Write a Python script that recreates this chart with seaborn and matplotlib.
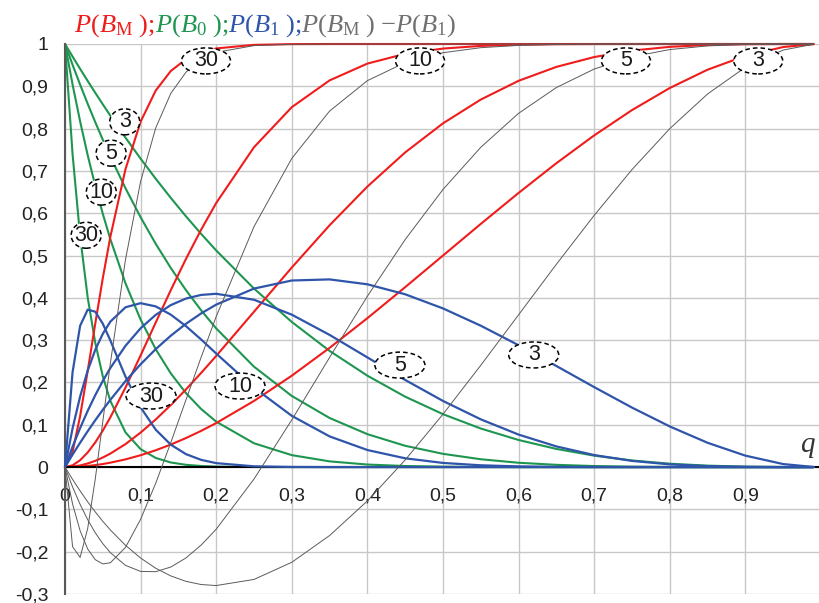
import numpy as np
import matplotlib
matplotlib.use("Agg")
import matplotlib.pyplot as plt
import seaborn as sns
from matplotlib.patches import Ellipse
from matplotlib.transforms import IdentityTransform

# ---------------- data ----------------
q = [0, 0.01, 0.02, 0.03, 0.04, 0.05, 0.06, 0.08, 0.10, 0.12, 0.14, 0.16, 0.18, 0.20,
     0.25, 0.30, 0.35, 0.40, 0.45, 0.50, 0.55, 0.60, 0.65, 0.70, 0.75, 0.80, 0.85,
     0.90, 0.95, 0.99]

n_values = [3, 5, 10, 30]

# P(B_0)  (green)
p_b0_3 = [1, 0.9703, 0.9412, 0.9127, 0.8847, 0.8574, 0.8306, 0.7787, 0.729, 0.6815,
          0.6361, 0.5927, 0.5514, 0.512, 0.4219, 0.343, 0.2746, 0.216, 0.1664, 0.125,
          0.0911, 0.064, 0.0429, 0.027, 0.0156, 0.008, 0.0034, 0.001, 0.0001, 0.0]
p_b0_5 = [1, 0.951, 0.9039, 0.8587, 0.8154, 0.7738, 0.7339, 0.6591, 0.5905, 0.5277,
          0.4704, 0.4182, 0.3707, 0.3277, 0.2373, 0.1681, 0.116, 0.0778, 0.0503, 0.0313,
          0.0185, 0.0102, 0.0053, 0.0024, 0.001, 0.0003, 0.0001, 0.0, 0.0, 0.0]
p_b0_10 = [1, 0.9044, 0.8171, 0.7374, 0.6648, 0.5987, 0.5386, 0.4344, 0.3487, 0.2785,
           0.2213, 0.1749, 0.1374, 0.1074, 0.0563, 0.0282, 0.0135, 0.006, 0.0025, 0.001,
           0.0003, 0.0001, 0.0, 0.0, 0.0, 0.0, 0.0, 0.0, 0.0, 0.0]
p_b0_30 = [1, 0.7397, 0.5455, 0.401, 0.2939, 0.2146, 0.1563, 0.082, 0.0424, 0.0216,
           0.0108, 0.0054, 0.0026, 0.0012, 0.0002, 0.0, 0.0, 0.0, 0.0, 0.0,
           0.0, 0.0, 0.0, 0.0, 0.0, 0.0, 0.0, 0.0, 0.0, 0.0]

# P(B_1)  (blue)
p_b1_3 = [0, 0.0294, 0.0576, 0.0847, 0.1106, 0.1354, 0.159, 0.2031, 0.243, 0.2788,
          0.3106, 0.3387, 0.3631, 0.384, 0.4219, 0.441, 0.4436, 0.432, 0.4084, 0.375,
          0.3341, 0.288, 0.2389, 0.189, 0.1406, 0.096, 0.0574, 0.027, 0.0071, 0.0003]
p_b1_5 = [0, 0.048, 0.0922, 0.1328, 0.1699, 0.2036, 0.2342, 0.2866, 0.3281, 0.3598,
          0.3829, 0.3983, 0.4069, 0.4096, 0.3955, 0.3602, 0.3124, 0.2592, 0.2059, 0.1563,
          0.1128, 0.0768, 0.0488, 0.0284, 0.0146, 0.0064, 0.0022, 0.0005, 0.0, 0.0]
p_b1_10 = [0, 0.0914, 0.1667, 0.2281, 0.277, 0.3151, 0.3438, 0.3777, 0.3874, 0.3798,
           0.3602, 0.3331, 0.3017, 0.2684, 0.1877, 0.1211, 0.0725, 0.0403, 0.0207, 0.0098,
           0.0042, 0.0016, 0.0005, 0.0001, 0.0, 0.0, 0.0, 0.0, 0.0, 0.0]
p_b1_30 = [0, 0.2242, 0.334, 0.3721, 0.3673, 0.3389, 0.2992, 0.2138, 0.1413, 0.0884,
           0.0529, 0.0306, 0.0171, 0.0093, 0.0018, 0.0003, 0.0, 0.0, 0.0, 0.0,
           0.0, 0.0, 0.0, 0.0, 0.0, 0.0, 0.0, 0.0, 0.0, 0.0]

# P(B_M)  (red)
p_bm_3 = [0, 0.0003, 0.0012, 0.0026, 0.0047, 0.0072, 0.0104, 0.0182, 0.028, 0.0397,
          0.0533, 0.0686, 0.0855, 0.104, 0.1563, 0.216, 0.2818, 0.352, 0.4253, 0.5,
          0.5748, 0.648, 0.7183, 0.784, 0.8438, 0.896, 0.9393, 0.972, 0.9928, 0.9997]
p_bm_5 = [0, 0.001, 0.0039, 0.0085, 0.0147, 0.0226, 0.0319, 0.0543, 0.0815, 0.1125,
          0.1467, 0.1835, 0.2224, 0.2627, 0.3672, 0.4717, 0.5716, 0.663, 0.7438, 0.8125,
          0.8687, 0.913, 0.9459, 0.9692, 0.9844, 0.9933, 0.9977, 0.9995, 1.0, 1.0]
p_bm_10 = [0, 0.0042, 0.0162, 0.0345, 0.0582, 0.0862, 0.1176, 0.1879, 0.2639, 0.3417,
           0.4185, 0.492, 0.5609, 0.6242, 0.756, 0.8507, 0.914, 0.9537, 0.9768, 0.9892,
           0.9955, 0.9983, 0.9995, 0.9999, 1.0, 1.0, 1.0, 1.0, 1.0, 1.0]
p_bm_30 = [0, 0.0361, 0.1205, 0.2269, 0.3388, 0.4465, 0.5445, 0.7042, 0.8163, 0.89,
           0.9363, 0.964, 0.9803, 0.9895, 0.998, 0.9997, 1.0, 1.0, 1.0, 1.0,
           1.0, 1.0, 1.0, 1.0, 1.0, 1.0, 1.0, 1.0, 1.0, 1.0]

y_ticks = [-0.3, -0.2, -0.1, 0, 0.1, 0.2, 0.3, 0.4, 0.5, 0.6, 0.7, 0.8, 0.9, 1.0]
y_tick_labels = ["-0,3", "-0,2", "-0,1", "0", "0,1", "0,2", "0,3", "0,4", "0,5",
                 "0,6", "0,7", "0,8", "0,9", "1"]
x_ticks = [0, 0.1, 0.2, 0.3, 0.4, 0.5, 0.6, 0.7, 0.8, 0.9]
x_tick_labels = ["0", "0,1", "0,2", "0,3", "0,4", "0,5", "0,6", "0,7", "0,8", "0,9"]

green_series = [p_b0_3, p_b0_5, p_b0_10, p_b0_30]
blue_series = [p_b1_3, p_b1_5, p_b1_10, p_b1_30]
red_series = [p_bm_3, p_bm_5, p_bm_10, p_bm_30]

# label anchors (annotation layout)
green_label_pos = [(0.079, 0.816), (0.061, 0.742), (0.048, 0.650), (0.028, 0.548)]
top_label_pos = [(0.917, 0.960), (0.742, 0.960), (0.4696, 0.960), (0.1865, 0.960)]
blue_label_pos = [(0.620, 0.265), (0.443, 0.241), (0.2315, 0.1915), (0.1138, 0.168)]

# ---------------- style ----------------
RED = "#F01C1C"
GREEN = "#1E9650"
BLUE = "#2F55AA"
GRAY = "#5A5A5A"

sns.set_style("white")
plt.rcParams["font.family"] = ["Liberation Sans", "DejaVu Sans"]
plt.rcParams["mathtext.fontset"] = "custom"
plt.rcParams["mathtext.rm"] = "Liberation Serif"
plt.rcParams["mathtext.it"] = "Liberation Serif:italic"
plt.rcParams["mathtext.bf"] = "Liberation Serif:bold"

W, H = 819, 603
fig = plt.figure(figsize=(W / 100, H / 100), dpi=100)
ax = fig.add_axes([65 / W, (H - 594) / H, 756 / W, 550 / H])

ax.set_xlim(0, 1.0)
ax.set_ylim(-0.3, 1.0)

for vals in green_series:
    sns.lineplot(x=q, y=vals, ax=ax, color=GREEN, lw=1.5, zorder=2, clip_on=False)
for vals in red_series:
    sns.lineplot(x=q, y=vals, ax=ax, color=RED, lw=1.5, zorder=2.2, clip_on=False)
for vals in blue_series:
    sns.lineplot(x=q, y=vals, ax=ax, color=BLUE, lw=1.6, zorder=3.5, clip_on=False)
for bm, b1 in zip(red_series, blue_series):
    diff = np.array(bm) - np.array(b1)
    sns.lineplot(x=q, y=diff, ax=ax, color=GRAY, lw=0.7, zorder=4, clip_on=False)

# axes styling
ax.set_xticks(x_ticks)
ax.set_xticklabels(x_tick_labels)
ax.set_yticks(y_ticks)
ax.set_yticklabels(y_tick_labels)
ax.grid(True, color="#C8C8C8", lw=1.0, zorder=0)
ax.set_axisbelow(True)
for s in ["top", "right"]:
    ax.spines[s].set_visible(False)
ax.spines["left"].set_color("#595959")
ax.spines["left"].set_linewidth(1.5)
ax.spines["bottom"].set_position(("data", 0))
ax.spines["bottom"].set_color("black")
ax.spines["bottom"].set_linewidth(1.5)
ax.spines["bottom"].set_zorder(3)
ax.tick_params(axis="x", direction="out", length=5, width=1.2, color="black",
               pad=10, labelsize=14, labelcolor="#222222")
ax.tick_params(axis="y", direction="out", length=5, width=1.2, color="#595959",
               pad=7, labelsize=14, labelcolor="#222222")
ax.set_xlabel("")
ax.set_ylabel("")


def ellipse_label(x, y, txt, w_px):
    w = w_px / 756 * 1.0
    h = 26 / 550 * 1.3
    e = Ellipse((x, y), w, h, facecolor="white", edgecolor="black", lw=1.1,
                ls=(0, (3, 2)), zorder=6, clip_on=False)
    ax.add_patch(e)
    ax.text(x, y, txt, ha="center", va="center", fontsize=15.5, color="#1a1a1a",
            zorder=7)


for (x, y), n in zip(green_label_pos, n_values):
    ellipse_label(x, y, str(n), 30)
for (x, y), n in zip(top_label_pos, n_values):
    ellipse_label(x, y, str(n), 49)
for (x, y), n in zip(blue_label_pos, n_values):
    ellipse_label(x, y, str(n), 50)

ax.text(0.983, 0.05, "$q$", fontsize=21, color="#333333", ha="center",
        va="center", zorder=7)

# multi-coloured title
pieces = [
    (r"$P(B_{\mathrm{M}}\ );$", RED),
    (r"$P(B_{0}\ );$", GREEN),
    (r"$P(B_{\mathit{1}}\ );$", BLUE),
    (r"$P(B_{\mathrm{M}}\ )\ \mathrm{-}P(B_{1})$", "#707070"),
]
fig.canvas.draw()
renderer = fig.canvas.get_renderer()
x0 = 74
base_y = H - 32
for s, c in pieces:
    t = fig.text(x0, base_y, s, color=c, fontsize=19, ha="left", va="baseline",
                 transform=IdentityTransform())
    bb = t.get_window_extent(renderer)
    x0 = bb.x1

fig.savefig("out.png", dpi=100)
